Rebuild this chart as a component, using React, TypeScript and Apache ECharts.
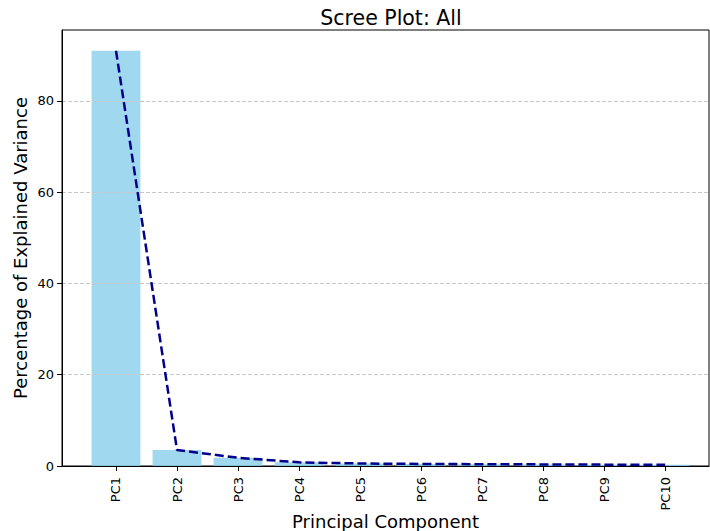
import React, { useEffect, useRef } from "react";
import * as echarts from "echarts";

// Explained variance (%) per principal component
const components = ["PC1", "PC2", "PC3", "PC4", "PC5", "PC6", "PC7", "PC8", "PC9", "PC10"];
const explainedVariance = [90.96, 3.5, 1.8, 0.8, 0.55, 0.45, 0.4, 0.35, 0.3, 0.25];
const yTicks = [0, 20, 40, 60, 80];

const FONT = "DejaVu Sans";

export default function App() {
  const ref = useRef<HTMLDivElement>(null);

  useEffect(() => {
    if (!ref.current) return;
    const chart = echarts.init(ref.current, undefined, { renderer: "svg" });
    const points = explainedVariance.map((v, i) => [i, v]);
    const yMax = Math.max(...explainedVariance) * 1.05;

    chart.setOption({
      animation: false,
      backgroundColor: "#ffffff",
      title: {
        text: "Scree Plot: All",
        left: 386,
        top: 2,
        textAlign: "center",
        textStyle: { fontFamily: FONT, fontSize: 20.5, fontWeight: "normal", color: "#000" },
      },
      grid: {
        left: 62,
        right: 1,
        top: 30,
        bottom: 65,
        outerBoundsMode: "none",
        containLabel: false,
        show: true,
        borderColor: "#000",
        borderWidth: 1,
        backgroundColor: "transparent",
      },
      xAxis: {
        type: "value",
        min: -0.885,
        max: 9.72,
        z: 4,
        name: "Principal Component",
        nameLocation: "middle",
        nameGap: 46,
        nameMoveOverlap: false,
        nameTextStyle: { fontFamily: FONT, fontSize: 18, color: "#000" },
        axisLine: { show: true, onZero: false, lineStyle: { color: "#000", width: 1 } },
        axisTick: {
          show: true,
          length: 5,
          customValues: components.map((_, i) => i),
          lineStyle: { color: "#000" },
        },
        axisLabel: {
          customValues: components.map((_, i) => i),
          rotate: 90,
          margin: 11,
          fontFamily: FONT,
          fontSize: 13,
          color: "#000",
          formatter: (v: number) => components[Math.round(v)] ?? "",
        },
        splitLine: { show: false },
      },
      yAxis: {
        type: "value",
        min: 0,
        max: yMax,
        interval: 20,
        z: 3,
        name: "Percentage of Explained Variance",
        nameLocation: "middle",
        nameGap: 33,
        nameMoveOverlap: false,
        nameTextStyle: { fontFamily: FONT, fontSize: 18, color: "#000" },
        axisLine: { show: true, onZero: false, lineStyle: { color: "#000", width: 1 } },
        axisTick: { show: true, length: 5, customValues: yTicks, lineStyle: { color: "#000" } },
        axisLabel: {
          customValues: yTicks,
          margin: 8,
          fontFamily: FONT,
          fontSize: 13,
          color: "#000",
        },
        splitLine: {
          show: true,
          lineStyle: { color: "#c8c8c8", type: [4, 2], width: 1 },
        },
      },
      series: [
        {
          type: "bar",
          data: points,
          barWidth: 48.8,
          z: 2,
          itemStyle: { color: "rgba(135,206,235,0.8)" },
        },
        {
          type: "line",
          data: points,
          z: 5,
          symbol: "none",
          lineStyle: { color: "#00008B", width: 2.5, type: [9, 4] },
        },
      ],
    });

    return () => chart.dispose();
  }, []);

  return (
    <div
      ref={ref}
      style={{ position: "fixed", left: 0, top: 0, width: 710, height: 531 }}
    />
  );
}
